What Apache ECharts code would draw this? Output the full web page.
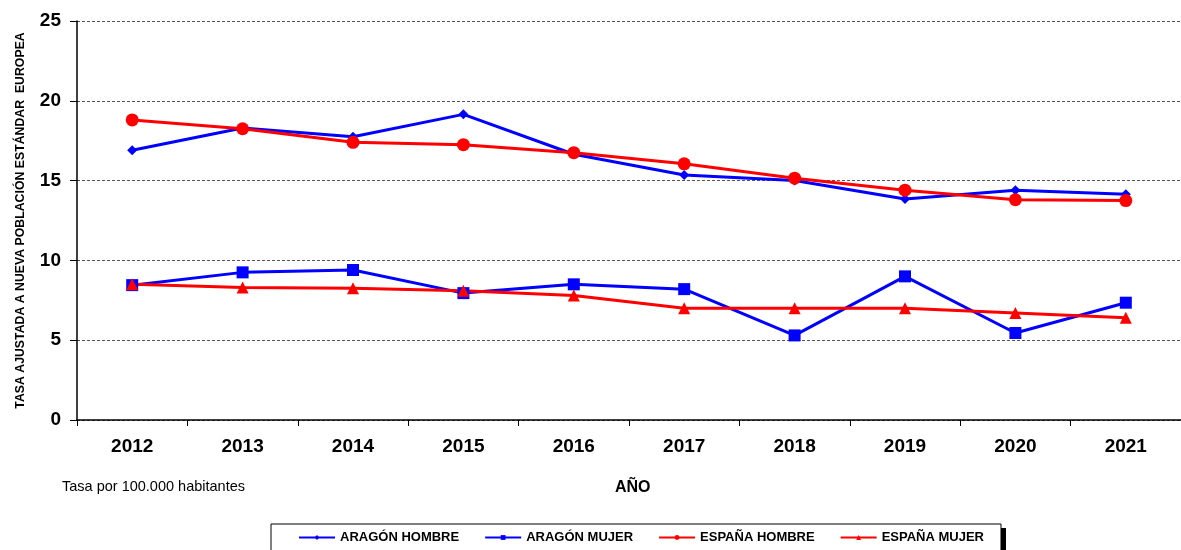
<!DOCTYPE html>
<html>
<head>
<meta charset="utf-8">
<script src="https://cdn.jsdelivr.net/npm/echarts@6/dist/echarts.min.js"></script>
<style>
html, body { margin: 0; padding: 0; background: #fff; }
#container { width: 1181px; height: 550px; }
</style>
</head>
<body>
<div id="container"></div>
<script>
// datos
var years = ['2012', '2013', '2014', '2015', '2016', '2017', '2018', '2019', '2020', '2021'];
var aragonHombre = [16.9, 18.3, 17.75, 19.15, 16.65, 15.35, 15.0, 13.85, 14.4, 14.15];
var aragonMujer = [8.45, 9.25, 9.4, 7.95, 8.5, 8.2, 5.3, 9.0, 5.45, 7.35];
var espanaHombre = [18.8, 18.25, 17.4, 17.25, 16.75, 16.05, 15.15, 14.4, 13.8, 13.75];
var espanaMujer = [8.5, 8.3, 8.25, 8.1, 7.8, 7.0, 7.0, 7.0, 6.7, 6.4];
var yTicks = [0, 5, 10, 15, 20, 25];

var FONT = 'Liberation Sans, Arial, sans-serif';
var dom = document.getElementById('container');
var myChart = echarts.init(dom);

function mkSerie(name, data, color, symbol, size) {
    return {
        name: name,
        type: 'line',
        data: data,
        symbol: symbol,
        symbolSize: size,
        itemStyle: { color: color },
        lineStyle: { color: color, width: 3 },
        emphasis: { disabled: true },
        animation: false
    };
}

var option = {
    backgroundColor: '#fff',
    textStyle: { fontFamily: FONT },
    grid: { left: 77, right: 0, top: 21, bottom: 130, containLabel: false },
    graphic: [
        {
            type: 'text', left: 62, top: 479,
            style: { text: 'Tasa por 100.000 habitantes', font: '14.5px ' + FONT, fill: '#000' }
        },
        {
            type: 'text', left: 615, top: 480,
            style: { text: 'AÑO', font: 'bold 16px ' + FONT, fill: '#000' }
        },
        // sombra de la leyenda
        {
            type: 'rect', z: -1,
            shape: { x: 999, y: 528, width: 7, height: 22 },
            style: { fill: '#000' }
        }
    ],
    legend: {
        left: 271,
        top: 524,
        padding: [7, 17, 9, 27],
        itemGap: 25,
        itemWidth: 36,
        itemHeight: 6,
        borderColor: '#000',
        borderWidth: 1,
        backgroundColor: '#fff',
        textStyle: { fontFamily: FONT, fontWeight: 'bold', fontSize: 13, color: '#000' },
        data: ['ARAGÓN HOMBRE', 'ARAGÓN MUJER', 'ESPAÑA HOMBRE', 'ESPAÑA MUJER']
    },
    xAxis: {
        type: 'category',
        data: years,
        boundaryGap: true,
        axisLine: { lineStyle: { color: '#000', width: 1.5 } },
        axisTick: { show: true, length: 6, lineStyle: { color: '#000' } },
        axisLabel: { color: '#000', fontWeight: 'bold', fontSize: 19, fontFamily: FONT, margin: 17 }
    },
    yAxis: {
        type: 'value',
        min: 0,
        max: 25,
        interval: 5,
        name: 'TASA AJUSTADA A NUEVA POBLACIÓN ESTÁNDAR  EUROPEA',
        nameLocation: 'middle',
        nameGap: 50,
        nameRotate: 90,
        nameTextStyle: { color: '#000', fontWeight: 'bold', fontSize: 12.3, fontFamily: FONT },
        axisLine: { show: true, lineStyle: { color: '#000', width: 1.5 } },
        axisTick: { show: true, length: 7, lineStyle: { color: '#000' } },
        axisLabel: {
            color: '#000', fontWeight: 'bold', fontSize: 19, fontFamily: FONT, margin: 16,
            formatter: function (v) { return yTicks.indexOf(v) >= 0 ? String(v) : ''; }
        },
        splitLine: { show: true, lineStyle: { color: '#555', type: [3, 2], width: 1 } }
    },
    series: [
        mkSerie('ARAGÓN HOMBRE', aragonHombre, '#0000ff', 'diamond', 10),
        mkSerie('ARAGÓN MUJER', aragonMujer, '#0000ff', 'rect', 12),
        mkSerie('ESPAÑA HOMBRE', espanaHombre, '#ff0000', 'circle', 13),
        mkSerie('ESPAÑA MUJER', espanaMujer, '#ff0000', 'triangle', 12)
    ]
};

myChart.setOption(option, true);
</script>
</body>
</html>
